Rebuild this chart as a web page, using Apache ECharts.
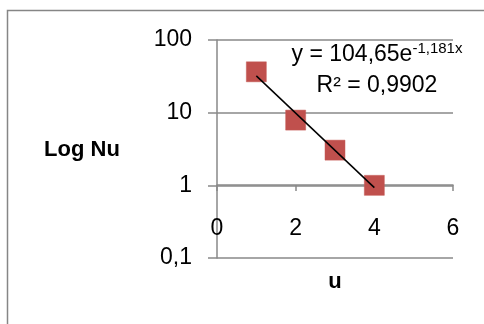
<!DOCTYPE html>
<html><head><meta charset="utf-8">
<script src="https://cdn.jsdelivr.net/npm/echarts@6/dist/echarts.min.js"></script>
<style>html,body{margin:0;padding:0;background:#fff}#c{width:484px;height:324px}</style>
</head><body><div id="c"></div>
<script>
const uValues = [1, 2, 3, 4];
const nuValues = [36.5, 7.9, 3.05, 1.0];
const trendU = [1, 4];
const trendNu = [32.1, 0.93];
const xTicks = [0, 2, 4, 6];
const yTicks = [0.1, 1, 10, 100];
const equationMain = 'y = 104,65e';
const equationExp = '-1,181x';
const r2Text = 'R² = 0,9902';
const yTitle = 'Log Nu';
const xTitle = 'u';

const FONT = 'Liberation Sans';
const GRID = '#898989';
const chart = echarts.init(document.getElementById('c'), null, {renderer: 'canvas'});
chart.setOption({
  animation: false,
  backgroundColor: '#fff',
  grid: {left: 217, right: 31, top: 40, bottom: 66},
  xAxis: {
    type: 'value', min: xTicks[0], max: xTicks[xTicks.length - 1], interval: 2,
    position: 'bottom', offset: -73,
    axisLine: {onZero: false, lineStyle: {color: GRID, width: 1.5}},
    axisTick: {show: true, inside: false, length: 6, lineStyle: {color: GRID, width: 1.5}},
    axisLabel: {margin: 32, color: '#000', fontFamily: FONT, fontSize: 23},
    splitLine: {show: false}
  },
  yAxis: {
    type: 'log', logBase: 10, min: yTicks[0], max: yTicks[yTicks.length - 1],
    axisLine: {show: true, lineStyle: {color: GRID, width: 1.5}},
    axisTick: {show: true, inside: false, length: 9, lineStyle: {color: GRID, width: 1.5}},
    axisLabel: {margin: 25, color: '#000', fontFamily: FONT, fontSize: 23,
      formatter: v => String(v).replace('.', ',')},
    splitLine: {show: true, lineStyle: {color: GRID, width: 1.5}}
  },
  series: [
    {type: 'scatter', symbol: 'rect', symbolSize: 20, z: 2,
     itemStyle: {color: '#c0504d', borderColor: '#c55a57', borderWidth: 0.5, opacity: 1},
     data: uValues.map((u, i) => [u, nuValues[i]])},
    {type: 'line', showSymbol: false, symbol: 'none', z: 3,
     lineStyle: {color: '#000', width: 1.5},
     data: trendU.map((u, i) => [u, trendNu[i]])}
  ],
  graphic: [
    {type: 'rect', shape: {x: 7.5, y: 10.5, width: 600, height: 400},
     style: {fill: null, stroke: '#868686', lineWidth: 1.5}, silent: true},
    {type: 'text', x: 82, y: 150,
     style: {text: yTitle, fontFamily: FONT, fontSize: 22, fontWeight: 'bold', fill: '#000',
       textAlign: 'center', textVerticalAlign: 'middle'}},
    {type: 'text', x: 335, y: 282,
     style: {text: xTitle, fontFamily: FONT, fontSize: 22, fontWeight: 'bold', fill: '#000',
       textAlign: 'center', textVerticalAlign: 'middle'}},
    {type: 'text', x: 377, y: 55,
     style: {text: '{a|' + equationMain + '}{b|' + equationExp + '}', textAlign: 'center', textVerticalAlign: 'middle',
       rich: {
         a: {fontFamily: FONT, fontSize: 23, fill: '#000', color: '#000', lineHeight: 27},
         b: {fontFamily: FONT, fontSize: 15, fill: '#000', color: '#000', verticalAlign: 'top', lineHeight: 15}
       }}},
    {type: 'text', x: 377, y: 86,
     style: {text: r2Text, fontFamily: FONT, fontSize: 23, fill: '#000',
       textAlign: 'center', textVerticalAlign: 'middle'}}
  ]
});
</script></body></html>
